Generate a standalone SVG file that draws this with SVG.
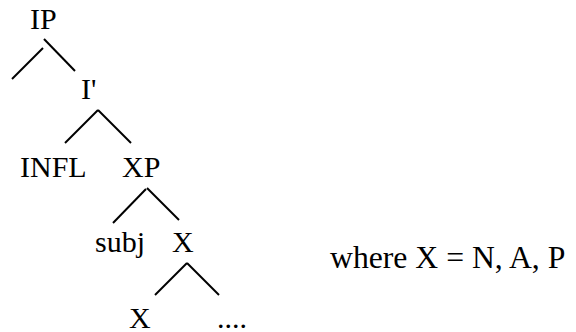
<svg xmlns="http://www.w3.org/2000/svg" width="576" height="332" viewBox="0 0 576 332">
<style>
text{font-family:"Liberation Serif","Times New Roman",serif;font-size:30px;fill:#000}
line{stroke:#000;stroke-width:2}
</style>
<rect width="576" height="332" fill="#fff"/>
<g id="IP"><text x="30" y="29">IP</text></g>
<g id="Ibar"><text x="81" y="99">I'</text></g>
<g id="INFL"><text x="20" y="177">INFL</text></g>
<g id="XP"><text x="122" y="177">XP</text></g>
<g id="subj"><text x="95" y="252">subj</text></g>
<g id="X1"><text x="172" y="252">X</text></g>
<g id="X2"><text x="129" y="328">X</text></g>
<g id="dots"><text x="217" y="328">....</text></g>
<g id="note"><text x="330" y="268" style="font-size:31.7px">where X = N, A, P</text></g>
<g id="connectors">
<line x1="43" y1="48" x2="12" y2="79"/>
<line x1="44" y1="39" x2="75" y2="71"/>
<line x1="98" y1="110" x2="65" y2="143"/>
<line x1="98" y1="110" x2="131" y2="143"/>
<line x1="146" y1="189" x2="113" y2="223"/>
<line x1="147" y1="188" x2="179" y2="220"/>
<line x1="187" y1="263" x2="155" y2="295"/>
<line x1="187" y1="263" x2="219" y2="295"/>
</g>
</svg>
